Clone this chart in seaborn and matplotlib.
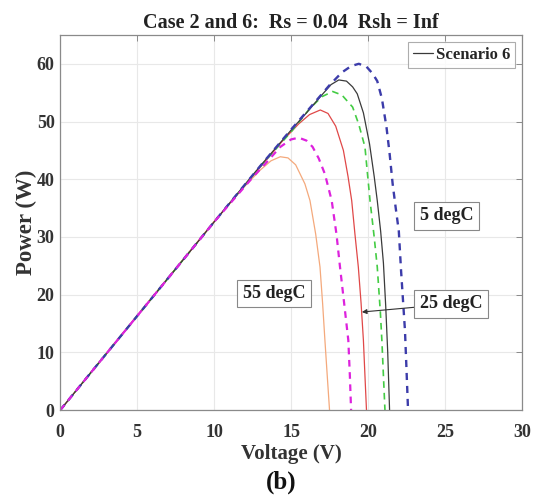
import numpy as np
import pandas as pd
import matplotlib
matplotlib.use("Agg")
import matplotlib.pyplot as plt
import seaborn as sns

# P-V curves (voltage in V, power in W) for each cell temperature
v_5 = [0, 5, 10, 13, 15, 16.5, 17.5, 18.3, 18.9, 19.4, 19.9, 20.3, 20.6, 20.9, 21.2, 21.4, 21.6, 21.8, 22.0, 22.15, 22.4, 22.5, 22.6]
p_5 = [0, 16.3, 32.6, 42.3, 48.6, 53.2, 56.3, 58.5, 59.6, 60.0, 59.5, 58.3, 57.0, 54.0, 49.0, 44.5, 39.2, 35.0, 31.0, 24.0, 13.8, 7.0, 0]

v_15 = [0, 5, 10, 13, 15, 16, 17, 17.6, 18.1, 18.6, 19.0, 19.3, 19.7, 20.1, 20.4, 20.6, 20.82, 21.0, 21.15, 21.28, 21.4]
p_15 = [0, 16.3, 32.6, 42.3, 48.5, 51.5, 54.6, 56.4, 57.2, 57.0, 56.0, 54.8, 51.5, 46.1, 40.5, 36.3, 31.0, 25.5, 18.0, 10.0, 0]

v_20 = [0, 5, 10, 13, 15, 16.2, 17.0, 17.7, 18.3, 19.0, 19.4, 19.8, 20.13, 20.4, 20.6, 20.8, 20.9, 21.0, 21.1]
p_20 = [0, 16.3, 32.6, 42.2, 48.2, 52.2, 54.3, 55.2, 54.6, 52.5, 49.5, 45.6, 36.3, 30.0, 24.8, 17.0, 12.1, 6.0, 0]

v_25 = [0, 5, 10, 13, 14.5, 15.5, 16.2, 16.9, 17.4, 17.9, 18.4, 18.7, 18.94, 19.15, 19.37, 19.55, 19.7, 19.8, 19.9]
p_25 = [0, 16.3, 32.6, 42.1, 46.8, 49.6, 51.2, 52.0, 51.4, 49.2, 45.0, 40.5, 36.3, 30.5, 24.8, 18.5, 12.1, 6.0, 0]

v_40 = [0, 5, 10, 12.5, 13.5, 14.3, 15.0, 15.5, 16.0, 16.4, 16.8, 17.2, 17.64, 17.95, 18.18, 18.45, 18.72, 18.82, 18.9]
p_40 = [0, 16.3, 32.6, 40.3, 43.2, 45.6, 46.9, 47.2, 46.7, 45.6, 43.6, 40.9, 36.3, 30.5, 24.8, 18.5, 12.1, 6.0, 0]

v_55 = [0, 5, 10, 12, 13, 13.7, 14.3, 14.8, 15.3, 15.9, 16.23, 16.6, 16.88, 17.05, 17.2, 17.35, 17.5]
p_55 = [0, 16.4, 32.7, 38.8, 41.6, 43.2, 43.9, 43.7, 42.5, 39.2, 36.3, 30.5, 24.8, 18.5, 12.1, 6.0, 0]

x_ticks = [0, 5, 10, 15, 20, 25, 30]
y_ticks = [0, 10, 20, 30, 40, 50, 60]

sns.set_theme(style="white")
serif = ["Liberation Serif", "DejaVu Serif"]
plt.rcParams["font.family"] = serif
plt.rcParams["font.weight"] = "bold"

fig = plt.figure(figsize=(5.37, 4.99), dpi=100)
ax = fig.add_axes([0.112, 0.178, 0.860, 0.752])

curves = [
    (v_55, p_55, "#f4a97c", "-", 0.9, None),
    (v_25, p_25, "#e04848", "-", 0.9, None),
    (v_20, p_20, "#44cc44", (0, (4, 3)), 1.2, None),
    (v_15, p_15, "#3a3a3a", "-", 0.9, "Scenario 6"),
    (v_5, p_5, "#3c3caa", (0, (3, 2.5)), 1.7, None),
    (v_40, p_40, "#dd22dd", (0, (3, 2.5)), 1.6, None),
]
for v, p, col, ls, lw, lab in curves:
    df = pd.DataFrame({"V": v, "P": p})
    sns.lineplot(data=df, x="V", y="P", ax=ax, color=col, linestyle=ls,
                 linewidth=lw, sort=False, estimator=None, label=lab,
                 legend=lab is not None)

ax.set_xlim(0, 30)
ax.set_ylim(0, 65)
ax.set_xticks(x_ticks)
ax.set_yticks(y_ticks)
ax.grid(True, color="#e8e8e8", linewidth=0.8)
for s in ax.spines.values():
    s.set_color("#8a8a8a")
    s.set_linewidth(0.9)
ax.tick_params(direction="in", length=4, width=0.7, color="#8a8a8a",
               top=True, right=True, labelsize=13, labelcolor="#333333")
ax.tick_params(axis="x", pad=10)
ax.tick_params(axis="y", pad=4)
for lbl in ax.get_xticklabels() + ax.get_yticklabels():
    lbl.set_fontweight("bold")

ax.set_xlabel("Voltage (V)", fontsize=15, fontweight="bold", color="#333333", labelpad=2)
ax.set_ylabel("Power (W)", fontsize=16.5, fontweight="bold", color="#333333", labelpad=0)
ax.set_title("Case 2 and 6:  Rs = 0.04  Rsh = Inf", fontsize=14.5,
             fontweight="bold", color="#222222", pad=5)

leg = ax.legend(loc="upper right", fontsize=12, frameon=True, fancybox=False,
                handlelength=1.2, handletextpad=0.2, borderpad=0.3,
                borderaxespad=0.4)
leg.get_frame().set_edgecolor("#999999")
leg.get_frame().set_linewidth(0.8)
for t in leg.get_texts():
    t.set_fontweight("bold")

box = dict(boxstyle="square,pad=0.3", facecolor="white", edgecolor="#888888", linewidth=0.8)
ax.text(25.1, 33.7, "5 degC", fontsize=13, fontweight="bold", ha="center", va="center",
        bbox=box, color="#222222")
ax.text(13.9, 20.2, "55 degC", fontsize=13, fontweight="bold", ha="center", va="center",
        bbox=box, color="#222222")
ax.annotate("25 degC", xy=(19.6, 17.0), xytext=(25.4, 18.4), fontsize=13,
            fontweight="bold", ha="center", va="center", bbox=box, color="#222222",
            arrowprops=dict(arrowstyle="-|>", color="#333333", lw=0.8,
                            mutation_scale=7, shrinkA=0, shrinkB=0))

fig.text(0.523, 0.034, "(b)", fontsize=18, fontweight="bold", ha="center", va="center",
         color="#111111")

fig.savefig("out.png", dpi=100)
